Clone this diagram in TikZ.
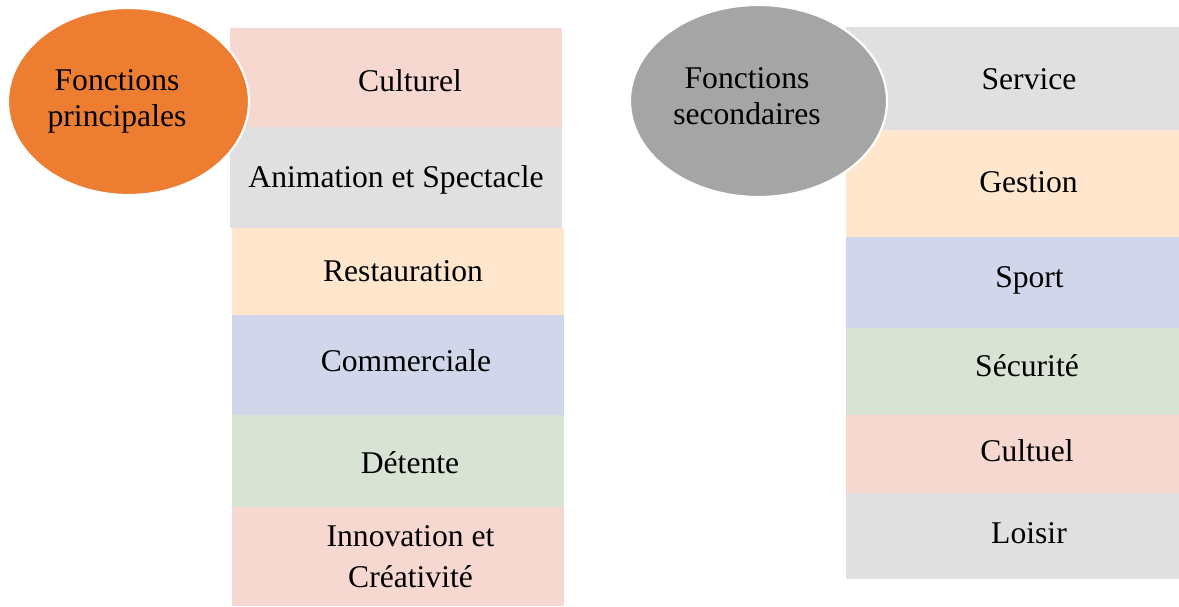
\documentclass[tikz,border=0pt]{standalone}
\usepackage{fontspec}
\setmainfont{Liberation Serif}
\usetikzlibrary{shapes.geometric}
\definecolor{fonctorange}{RGB}{237,125,49}
\definecolor{fonctgray}  {RGB}{165,165,165}
\definecolor{lightpink}  {RGB}{247,216,209}
\definecolor{lightgray}  {RGB}{224,224,224}
\definecolor{lightpeach} {RGB}{255,230,204}
\definecolor{lightlav}   {RGB}{209,214,234}
\definecolor{lightgreen} {RGB}{216,227,212}

\begin{document}
\begin{tikzpicture}[
  x=0.02cm,y=-0.02cm,
  every node/.style={font=\fontsize{18}{21}\selectfont},
  lbl/.style={anchor=base,inner sep=0pt},
  lbltwo/.style={anchor=base,inner sep=0pt,align=center},
  fn/.style={ellipse,draw=white,line width=1.2pt,inner sep=0pt},
]
\useasboundingbox (0,0) rectangle (1179,607);

%% ── Fonctions principales: colour bands ──────────────────────────────────
\fill[lightpink]  (230,28)  rectangle (562,127);
\fill[lightgray]  (230,127) rectangle (562,228);
\fill[lightpeach] (232,228) rectangle (564,315);
\fill[lightlav]   (232,315) rectangle (564,415);
\fill[lightgreen] (232,415) rectangle (564,507);
\fill[lightpink]  (232,507) rectangle (564,606);

%% ── Fonctions secondaires: colour bands ──────────────────────────────────
\fill[lightgray]  (846,27)  rectangle (1179,130);
\fill[lightpeach] (846,130) rectangle (1179,237);
\fill[lightlav]   (846,237) rectangle (1179,328);
\fill[lightgreen] (846,328) rectangle (1179,415);
\fill[lightpink]  (846,415) rectangle (1179,493);
\fill[lightgray]  (846,493) rectangle (1179,579);

%% ── Ellipses ──────────────────────────────────────────────────────────────
\node[fn,fill=fonctorange,minimum width=4.82cm,minimum height=3.74cm]
  (princ) at (128.5,101.5) {};
\node[fn,fill=fonctgray,minimum width=5.14cm,minimum height=3.84cm]
  (second) at (758.5,101) {};

%% base = last line
\node[lbltwo,font=\fontsize{18}{20.5}\selectfont] (princ-t) at (117,127)
  {Fonctions\\principales};
\node[lbltwo,font=\fontsize{18}{20.5}\selectfont] (second-t) at (747,125)
  {Fonctions\\secondaires};

%% ── Labels, left column ──────────────────────────────────────────────────
\node[lbl] (culturel)     at (410,92)  {Culturel};
\node[lbl] (animation)    at (396,188) {Animation et Spectacle};
\node[lbl] (restauration) at (403,282) {Restauration};
\node[lbl] (commerciale)  at (406,372) {Commerciale};
\node[lbl] (detente)      at (410,473) {Détente};
\node[lbltwo,font=\fontsize{18}{22.8}\selectfont] (innovation) at (410.5,587)
  {Innovation et\\Créativité};

%% ── Labels, right column ─────────────────────────────────────────────────
\node[lbl] (service)  at (1029,90)  {Service};
\node[lbl] (gestion)  at (1028.5,193) {Gestion};
\node[lbl] (sport)    at (1029.5,288) {Sport};
\node[lbl] (securite) at (1027,377) {Sécurité};
\node[lbl] (cultuel)  at (1027,461) {Cultuel};
\node[lbl] (loisir)   at (1029,543) {Loisir};

\end{tikzpicture}
\end{document}
